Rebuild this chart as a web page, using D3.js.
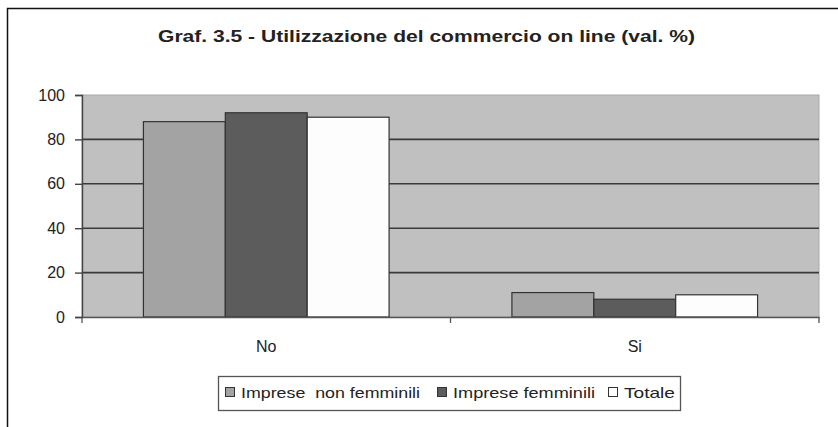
<!DOCTYPE html>
<html>
<head>
	<title>Graf. 3.5</title>
	<style>
		html, body { margin: 0; background: #fff; }
		svg { display: block; font-family: Arial, "Liberation Sans", sans-serif; }
	</style>
	<script src="https://cdn.jsdelivr.net/npm/d3@7/dist/d3.min.js"></script>
</head>
<body>
	<svg id="svg" width="838" height="427"></svg>
	<script>
		const categories = ['No', 'Si'];
		const seriesNames = ['Imprese  non femminili', 'Imprese femminili', 'Totale'];
		const nonFemminili = [88, 11];
		const femminili = [92, 8];
		const totale = [90, 10];
		const yTicks = [0, 20, 40, 60, 80, 100];

		const seriesValues = [nonFemminili, femminili, totale];
		const colors = ['#a3a3a3', '#5c5c5c', '#fdfdfd'];

		const svg = d3.select('#svg');
		const margin = { left: 82, right: 19, top: 95, bottom: 110 };
		const width = 838, height = 427;
		const FONT = 'Arial, "Liberation Sans", sans-serif';

		// outer frame (only top and left visible)
		svg.append('path')
			.attr('d', `M7.5,${height} V8.5 H${width}`)
			.attr('fill', 'none')
			.attr('stroke', '#111')
			.attr('stroke-width', 1.5);

		// title, stretched a little like the original
		svg.append('text')
			.attr('x', 158)
			.attr('y', 42)
			.attr('font-size', 17)
			.attr('font-weight', 'bold')
			.attr('fill', '#222')
			.attr('textLength', 537)
			.attr('lengthAdjust', 'spacingAndGlyphs')
			.text('Graf. 3.5 - Utilizzazione del commercio on line (val. %)');

		const x0 = d3.scaleBand()
			.domain(categories)
			.range([margin.left, width - margin.right]);
		const x1 = d3.scaleBand()
			.domain(d3.range(seriesNames.length))
			.range([0, x0.bandwidth()])
			.paddingInner(0)
			.paddingOuter(0.75);
		const y = d3.scaleLinear()
			.domain([0, 100])
			.range([height - margin.bottom, margin.top]);

		// plot background
		svg.append('rect')
			.attr('x', margin.left)
			.attr('y', margin.top)
			.attr('width', width - margin.left - margin.right)
			.attr('height', y(0) - margin.top)
			.attr('fill', '#c0c0c0')
			.attr('stroke', '#a8a8a8');

		// gridlines
		svg.append('g')
			.selectAll('line')
			.data(yTicks.filter(d => d > 0 && d < 100))
			.join('line')
			.attr('x1', margin.left)
			.attr('x2', width - margin.right)
			.attr('y1', d => y(d))
			.attr('y2', d => y(d))
			.attr('stroke', '#3a3a3a')
			.attr('stroke-width', 1.6);

		// bars
		const groups = svg.append('g')
			.selectAll('g')
			.data(categories)
			.join('g')
			.attr('transform', d => `translate(${x0(d)},0)`);

		groups.selectAll('rect')
			.data((d, i) => seriesValues.map((s, j) => ({ j: j, v: s[i] })))
			.join('rect')
			.attr('x', d => x1(d.j))
			.attr('y', d => y(d.v))
			.attr('width', x1.bandwidth())
			.attr('height', d => y(0) - y(d.v))
			.attr('fill', d => colors[d.j])
			.attr('stroke', '#333')
			.attr('stroke-width', 1.2);

		// y axis
		const yAxis = svg.append('g')
			.attr('transform', `translate(${margin.left},0)`)
			.call(d3.axisLeft(y).tickValues(yTicks).tickSize(7).tickPadding(10));
		yAxis.selectAll('line, path').attr('stroke', '#444').attr('stroke-width', 1.4);
		yAxis.selectAll('text').attr('font-size', 16).attr('fill', '#222')
			.attr('font-family', FONT);

		// x axis
		const xAxis = svg.append('g')
			.attr('transform', `translate(0,${y(0)})`)
			.call(d3.axisBottom(x0).tickSize(0).tickPadding(24));
		xAxis.select('.domain').attr('stroke', '#555').attr('stroke-width', 1.5);
		xAxis.selectAll('text').attr('font-size', 16).attr('fill', '#222')
			.attr('font-family', FONT);
		xAxis.selectAll('.sep')
			.data(categories.map(c => x0(c)).concat([x0.range()[1]]))
			.join('line')
			.attr('class', 'sep')
			.attr('x1', d => d).attr('x2', d => d)
			.attr('y1', 0).attr('y2', 6)
			.attr('stroke', '#555')
			.attr('stroke-width', 1.3);

		// legend
		const legend = svg.append('g');
		legend.append('rect')
			.attr('x', 218.5).attr('y', 376.5)
			.attr('width', 462).attr('height', 34)
			.attr('fill', '#fff')
			.attr('stroke', '#555')
			.attr('stroke-width', 1.3);
		const legendX = [225, 437, 608];
		const legendTextW = [179, 142, 51];
		seriesNames.forEach((name, i) => {
			legend.append('rect')
				.attr('x', legendX[i] + 0.5).attr('y', 387.5)
				.attr('width', 9).attr('height', 9)
				.attr('fill', colors[i])
				.attr('stroke', '#333');
			legend.append('text')
				.attr('x', legendX[i] + 16).attr('y', 398)
				.attr('font-size', 15)
				.attr('fill', '#222')
				.attr('xml:space', 'preserve')
				.style('white-space', 'pre')
				.attr('textLength', legendTextW[i])
				.attr('lengthAdjust', 'spacingAndGlyphs')
				.text(name);
		});
	</script>
</body>
</html>
